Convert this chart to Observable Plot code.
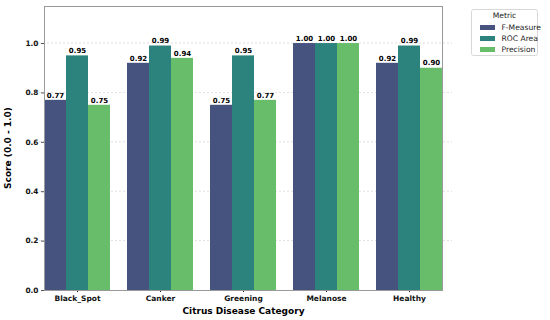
<!DOCTYPE html>
<html>
<head>
<meta charset="utf-8">
<script src="https://cdn.jsdelivr.net/npm/d3@7"></script>
<script src="https://cdn.jsdelivr.net/npm/@observablehq/plot@0.6"></script>
<style>
  body { margin: 0; background: #fff; font-family: "DejaVu Sans", sans-serif; }
</style>
</head>
<body>
<div id="chart"></div>
<script>
const categories = ["Black_Spot", "Canker", "Greening", "Melanose", "Healthy"];
const metrics = ["F-Measure", "ROC Area", "Precision"];
const fMeasure = [0.77, 0.92, 0.75, 1.00, 0.92];
const rocArea = [0.95, 0.99, 0.95, 1.00, 0.99];
const precision = [0.75, 0.94, 0.77, 1.00, 0.90];
const colors = ["#46537f", "#2c837d", "#68bd6a"];
const yTicks = [0, 0.2, 0.4, 0.6, 0.8, 1.0];

const series = [fMeasure, rocArea, precision];
const data = [];
categories.forEach((c, i) => metrics.forEach((m, j) => data.push({category: c, metric: m, value: series[j][i]})));

const W = 550, H = 320, mL = 35, mR = 98, mT = 6, mB = 30;

const plot = Plot.plot({
  width: W, height: H,
  marginLeft: mL, marginRight: mR, marginTop: mT, marginBottom: mB,
  style: {fontFamily: "DejaVu Sans", fontSize: "7px", color: "#111", background: "#fff"},
  fx: {domain: categories, paddingInner: 0.2, paddingOuter: 0.1, label: null, axis: null},
  x: {domain: metrics, padding: 0, axis: null},
  y: {domain: [0, 1.15], axis: null},
  color: {domain: metrics, range: colors},
  marks: [
    Plot.barY(data, {fx: "category", x: "metric", y: "value", fill: "metric"}),
    Plot.text(data, {fx: "category", x: "metric", y: "value", text: d => d.value.toFixed(2), dy: -5, fontWeight: "bold", fontSize: 7, fill: "#000"}),
    Plot.axisY({ticks: yTicks, tickFormat: d3.format(".1f"), tickSize: 3, tickPadding: 3, fontWeight: "bold", fontSize: 7.4, label: null, stroke: "#555"}),
    Plot.axisFx({domain: categories, anchor: "bottom", tickSize: 2, tickPadding: 3, fontWeight: "bold", fontSize: 7.5, label: null}),
    Plot.frame({facet: "super", stroke: "#999", strokeWidth: 1})
  ]
});
document.getElementById("chart").appendChild(plot);

const svg = d3.select(plot);
const ys = plot.scale("y");
const grid = svg.insert("g", ":first-child").attr("stroke", "#d0d0d0").attr("stroke-dasharray", "2,2").attr("stroke-width", 0.7);
yTicks.slice(1).forEach(t => {
  const yy = ys.apply(t);
  grid.append("line").attr("x1", mL).attr("x2", W - mR).attr("y1", yy).attr("y2", yy);
});

svg.append("text").attr("x", mL + (W - mL - mR) / 2).attr("y", H - 6).attr("text-anchor", "middle")
  .attr("font-weight", "bold").attr("font-size", 9).attr("fill", "#000").text("Citrus Disease Category");
svg.append("text").attr("transform", `translate(11,${mT + (H - mT - mB) / 2}) rotate(-90)`).attr("text-anchor", "middle")
  .attr("font-weight", "bold").attr("font-size", 9).attr("fill", "#000").text("Score (0.0 - 1.0)");

// legend
const lg = svg.append("g").attr("font-family", "DejaVu Sans").attr("font-size", 7.6).attr("fill", "#222");
lg.append("rect").attr("x", 471.5).attr("y", 9.5).attr("width", 66).attr("height", 46).attr("rx", 2)
  .attr("fill", "#fff").attr("stroke", "#d8d8d8").attr("stroke-width", 1);
lg.append("text").attr("x", 504.5).attr("y", 18).attr("text-anchor", "middle").text("Metric");
metrics.forEach((m, i) => {
  const cy = 27.5 + i * 11;
  lg.append("rect").attr("x", 480).attr("y", cy - 2.5).attr("width", 15).attr("height", 5).attr("fill", colors[i]);
  lg.append("text").attr("x", 501.5).attr("y", cy + 2.7).attr("text-anchor", "start").text(m);
});
</script>
</body>
</html>
